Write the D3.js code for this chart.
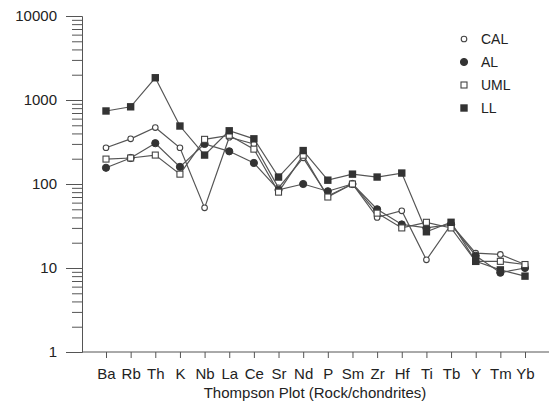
<!DOCTYPE html>
<html>
<head>
<meta charset="utf-8">
<script src="https://cdn.jsdelivr.net/npm/d3@7"></script>
<style>
  body { margin: 0; background: #fff; }
  svg text { font-family: "Liberation Sans", Arial, sans-serif; fill: #222; }
</style>
</head>
<body>
<div id="chart"></div>
<script>
// Elements along the x axis
const elements = ['Ba', 'Rb', 'Th', 'K', 'Nb', 'La', 'Ce', 'Sr', 'Nd', 'P', 'Sm', 'Zr', 'Hf', 'Ti', 'Tb', 'Y', 'Tm', 'Yb'];

// Rock / chondrite values
const cal = [270, 345, 470, 270, 52, 360, 300, 90, 205, 72, 100, 40, 48, 12.5, 33, 15, 14.5, 11];
const al  = [156, 204, 306, 160, 300, 245, 178, 85, 100, 82, 100, 50, 33, 30, 33, 14, 8.8, 10];
const uml = [198, 204, 221, 131, 340, 380, 260, 80, 220, 70, 100, 45, 30, 35, 30, 12, 12, 11];
const ll  = [740, 830, 1840, 490, 221, 430, 345, 121, 250, 111, 131, 121, 135, 27, 35, 12, 9.5, 8];

const seriesNames = ['CAL', 'AL', 'UML', 'LL'];
const seriesValues = [cal, al, uml, ll];

const yMajor = [1, 10, 100, 1000, 10000];

const width = 549, height = 403;

const svg = d3.select('#chart')
    .append('svg')
    .attr('width', width)
    .attr('height', height);

const x = d3.scalePoint()
    .domain(elements)
    .range([106, 525]);

const y = d3.scaleLog()
    .domain([1, 10000])
    .range([352, 16]);

// minor ticks 2..9 in every decade
const yMinor = [];
for (let d = 1; d < 10000; d *= 10) {
    for (let k = 2; k <= 9; k++) yMinor.push(d * k);
}

// y axis
const yAxis = svg.append('g')
    .attr('transform', 'translate(82,0)')
    .call(d3.axisLeft(y)
        .tickValues(yMajor)
        .tickSize(16)
        .tickPadding(9)
        .tickFormat(d3.format('d')));
yAxis.selectAll('text').style('font-size', '15px');

svg.append('g')
    .attr('transform', 'translate(82,0)')
    .call(d3.axisLeft(y).tickValues(yMinor).tickSize(10).tickFormat(''))
    .select('.domain').remove();

// x axis
const xAxis = svg.append('g')
    .attr('transform', 'translate(0,352)')
    .call(d3.axisBottom(x).tickSize(6).tickPadding(10).tickSizeOuter(0));
xAxis.select('.domain').attr('d', 'M82,0H549');
xAxis.selectAll('text').style('font-size', '15px');

svg.selectAll('.domain, .tick line').attr('stroke', '#555');

svg.append('text')
    .attr('x', 315)
    .attr('y', 398)
    .attr('text-anchor', 'middle')
    .style('font-size', '15px')
    .text('Thompson Plot (Rock/chondrites)');

// lines
const line = d3.line()
    .x((d, i) => x(elements[i]))
    .y(d => y(d));

svg.selectAll('path.series')
    .data(seriesValues)
    .enter()
    .append('path')
    .attr('class', 'series')
    .attr('d', line)
    .attr('fill', 'none')
    .attr('stroke', '#555')
    .attr('stroke-width', 1.2);

// markers
function drawMarker(g, type, cx, cy) {
    if (type === 'CAL') {
        g.append('circle').attr('cx', cx).attr('cy', cy).attr('r', 2.8)
            .attr('fill', '#fff').attr('stroke', '#444').attr('stroke-width', 1.1);
    } else if (type === 'AL') {
        g.append('circle').attr('cx', cx).attr('cy', cy).attr('r', 3.6)
            .attr('fill', '#333').attr('stroke', '#333');
    } else if (type === 'UML') {
        g.append('rect').attr('x', cx - 3).attr('y', cy - 3).attr('width', 6).attr('height', 6)
            .attr('fill', '#fff').attr('stroke', '#444').attr('stroke-width', 1.1);
    } else {
        g.append('rect').attr('x', cx - 3.7).attr('y', cy - 3.7).attr('width', 7.4).attr('height', 7.4)
            .attr('fill', '#333');
    }
}

const markers = svg.append('g');
seriesValues.forEach((vals, s) => {
    vals.forEach((v, i) => drawMarker(markers, seriesNames[s], x(elements[i]), y(v)));
});

// legend
const legend = svg.append('g');
const legendY = d3.scalePoint().domain(seriesNames).range([39, 108]);
seriesNames.forEach(name => {
    drawMarker(legend, name, 464, legendY(name));
    legend.append('text')
        .attr('x', 481)
        .attr('y', legendY(name) + 5)
        .style('font-size', '14px')
        .text(name);
});
</script>
</body>
</html>
